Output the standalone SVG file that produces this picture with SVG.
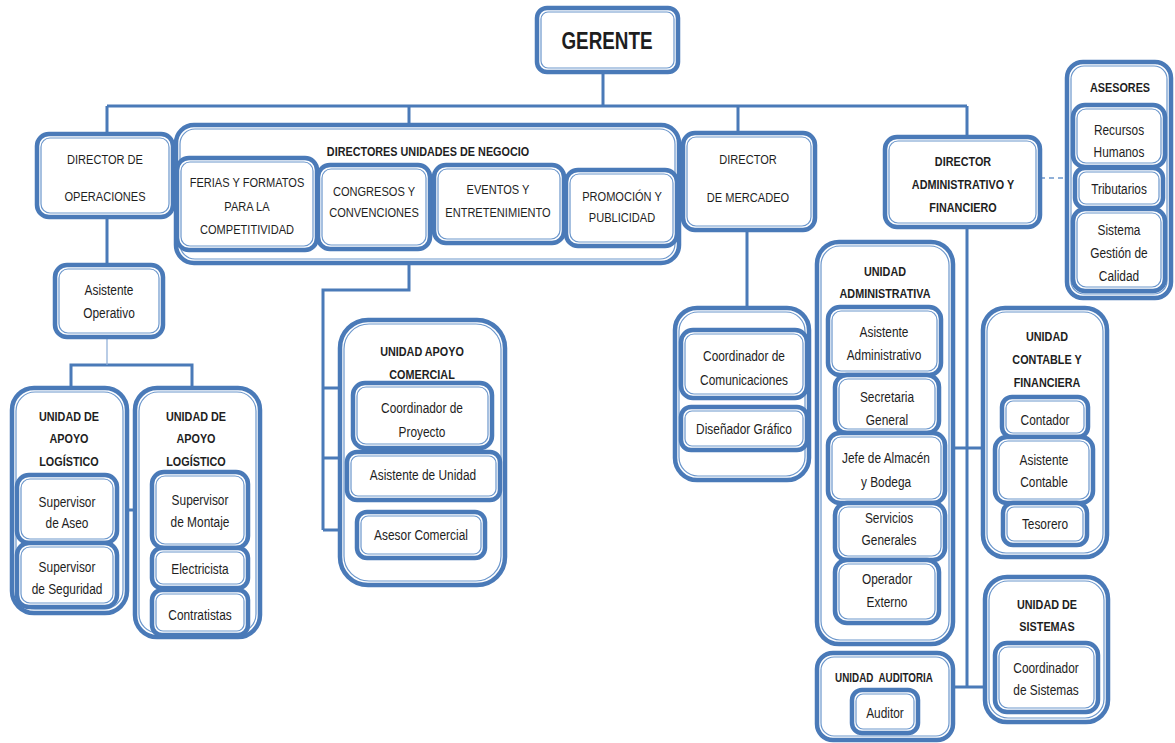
<svg xmlns="http://www.w3.org/2000/svg" width="1175" height="743" viewBox="0 0 1175 743">
<style>
.o{fill:#fff;stroke:#4a7ab8;stroke-width:4.5}
.i{fill:none;stroke:#6c97cc;stroke-width:1.2}
text{font-family:"Liberation Sans",Arial,sans-serif;font-size:14.5px;fill:#1e1e1e;text-anchor:middle;dominant-baseline:central}
.c{font-size:13.5px}
.b{font-weight:bold;font-size:13.2px}
.cn{stroke:#4a7ab8;stroke-width:3;fill:none}
.th{stroke:#8aabd6;stroke-width:1.2;fill:none}
.ds{stroke:#6c97cc;stroke-width:1.5;stroke-dasharray:5 4;fill:none}
</style>
<rect width="1175" height="743" fill="#fff"/>
<g id="connectors">
<path class="cn" d="M603 72V106M107 106H967M107 106V134M409 106V290H323V530M323 388H340M323 458H347M323 530H340M738 106V133M747 230V308M967 106V137M967 227V687M953 448H983M953 687H985M107 217V265M71 388V365H192V388M127 510H135"/>
<path class="th" d="M107 337V365"/>
<path class="ds" d="M1040 178H1067"/>
</g>
<g id="gerente"><rect class="o" x="537" y="8" width="141" height="64" rx="10"/><rect class="i" x="541" y="12" width="133" height="56" rx="7"/><text transform="translate(607 41) scale(.82 1)" style="font-size:23px;font-weight:bold">GERENTE</text></g>
<g id="dir-operaciones"><rect class="o" x="37" y="134" width="136" height="83" rx="12"/><rect class="i" x="41" y="138" width="128" height="75" rx="9"/><text class="c" transform="translate(105 160) scale(.82 1)">DIRECTOR DE</text><text class="c" transform="translate(105 197) scale(.82 1)">OPERACIONES</text></g>
<g id="directores-unidades"><rect class="o" x="176" y="125" width="503" height="138" rx="18"/><rect class="i" x="180" y="129" width="495" height="130" rx="15"/><text class="b" transform="translate(428 152) scale(.82 1)">DIRECTORES UNIDADES DE NEGOCIO</text>
<g id="ferias"><rect class="o" x="177" y="158" width="140" height="92" rx="12"/><rect class="i" x="181" y="162" width="132" height="84" rx="9"/><text class="c" transform="translate(247 183) scale(.82 1)">FERIAS Y FORMATOS</text><text class="c" transform="translate(247 207) scale(.82 1)">PARA LA</text><text class="c" transform="translate(247 230) scale(.82 1)">COMPETITIVIDAD</text></g>
<g id="congresos"><rect class="o" x="318" y="165" width="112" height="84" rx="12"/><rect class="i" x="322" y="169" width="104" height="76" rx="9"/><text class="c" transform="translate(374 192) scale(.82 1)">CONGRESOS Y</text><text class="c" transform="translate(374 213) scale(.82 1)">CONVENCIONES</text></g>
<g id="eventos"><rect class="o" x="434" y="165" width="130" height="78" rx="12"/><rect class="i" x="438" y="169" width="122" height="70" rx="9"/><text class="c" transform="translate(498 190) scale(.82 1)">EVENTOS Y</text><text class="c" transform="translate(498 213) scale(.82 1)">ENTRETENIMIENTO</text></g>
<g id="promocion"><rect class="o" x="566" y="170" width="111" height="76" rx="12"/><rect class="i" x="570" y="174" width="103" height="68" rx="9"/><text class="c" transform="translate(622 197) scale(.82 1)">PROMOCIÓN Y</text><text class="c" transform="translate(622 218) scale(.82 1)">PUBLICIDAD</text></g>
</g>
<g id="dir-mercadeo"><rect class="o" x="683" y="133" width="132" height="97" rx="12"/><rect class="i" x="687" y="137" width="124" height="89" rx="9"/><text class="c" transform="translate(748 160) scale(.82 1)">DIRECTOR</text><text class="c" transform="translate(748 198) scale(.82 1)">DE MERCADEO</text></g>
<g id="dir-administrativo"><rect class="o" x="885" y="137" width="155" height="90" rx="12"/><rect class="i" x="889" y="141" width="147" height="82" rx="9"/><text class="b" transform="translate(963 162) scale(.82 1)">DIRECTOR</text><text class="b" transform="translate(963 185) scale(.82 1)">ADMINISTRATIVO Y</text><text class="b" transform="translate(963 208) scale(.82 1)">FINANCIERO</text></g>
<g id="asesores"><rect class="o" x="1067" y="62" width="104" height="236" rx="16"/><rect class="i" x="1071" y="66" width="96" height="228" rx="13"/><text class="b" transform="translate(1120 88) scale(.82 1)">ASESORES</text>
<g id="rrhh"><rect class="o" x="1073" y="105" width="92" height="62" rx="12"/><rect class="i" x="1077" y="109" width="84" height="54" rx="9"/><text transform="translate(1119 130) scale(.82 1)">Recursos</text><text transform="translate(1119 152) scale(.82 1)">Humanos</text></g>
<g id="tributarios"><rect class="o" x="1075" y="168" width="88" height="40" rx="10"/><rect class="i" x="1079" y="172" width="80" height="32" rx="7"/><text transform="translate(1119 189) scale(.82 1)">Tributarios</text></g>
<g id="sistema-calidad"><rect class="o" x="1073" y="209" width="92" height="82" rx="12"/><rect class="i" x="1077" y="213" width="84" height="74" rx="9"/><text transform="translate(1119 230) scale(.82 1)">Sistema</text><text transform="translate(1119 253) scale(.82 1)">Gestión de</text><text transform="translate(1119 276) scale(.82 1)">Calidad</text></g>
</g>
<g id="asistente-operativo"><rect class="o" x="55" y="265" width="108" height="72" rx="12"/><rect class="i" x="59" y="269" width="100" height="64" rx="9"/><text transform="translate(109 290) scale(.82 1)">Asistente</text><text transform="translate(109 313) scale(.82 1)">Operativo</text></g>
<g id="apoyo-logistico-1"><rect class="o" x="12" y="388" width="115" height="225" rx="22"/><rect class="i" x="16" y="392" width="107" height="217" rx="19"/><text class="b" transform="translate(69 417) scale(.82 1)">UNIDAD DE</text><text class="b" transform="translate(69 439) scale(.82 1)">APOYO</text><text class="b" transform="translate(69 462) scale(.82 1)">LOGÍSTICO</text>
<g id="sup-aseo"><rect class="o" x="17" y="475" width="100" height="68" rx="12"/><rect class="i" x="21" y="479" width="92" height="60" rx="9"/><text transform="translate(67 502) scale(.82 1)">Supervisor</text><text transform="translate(67 523) scale(.82 1)">de Aseo</text></g>
<g id="sup-seguridad"><rect class="o" x="17" y="543" width="100" height="64" rx="12"/><rect class="i" x="21" y="547" width="92" height="56" rx="9"/><text transform="translate(67 567) scale(.82 1)">Supervisor</text><text transform="translate(67 589) scale(.82 1)">de Seguridad</text></g>
</g>
<g id="apoyo-logistico-2"><rect class="o" x="135" y="388" width="125" height="249" rx="22"/><rect class="i" x="139" y="392" width="117" height="241" rx="19"/><text class="b" transform="translate(196 417) scale(.82 1)">UNIDAD DE</text><text class="b" transform="translate(196 439) scale(.82 1)">APOYO</text><text class="b" transform="translate(196 462) scale(.82 1)">LOGÍSTICO</text>
<g id="sup-montaje"><rect class="o" x="152" y="472" width="96" height="76" rx="12"/><rect class="i" x="156" y="476" width="88" height="68" rx="9"/><text transform="translate(200 500) scale(.82 1)">Supervisor</text><text transform="translate(200 522) scale(.82 1)">de Montaje</text></g>
<g id="electricista"><rect class="o" x="152" y="548" width="96" height="40" rx="10"/><rect class="i" x="156" y="552" width="88" height="32" rx="7"/><text transform="translate(200 569) scale(.82 1)">Electricista</text></g>
<g id="contratistas"><rect class="o" x="152" y="590" width="96" height="45" rx="10"/><rect class="i" x="156" y="594" width="88" height="37" rx="7"/><text transform="translate(200 615) scale(.82 1)">Contratistas</text></g>
</g>
<g id="apoyo-comercial"><rect class="o" x="340" y="320" width="165" height="265" rx="28"/><rect class="i" x="344" y="324" width="157" height="257" rx="25"/><text class="b" transform="translate(422 352) scale(.82 1)">UNIDAD APOYO</text><text class="b" transform="translate(422 375) scale(.82 1)">COMERCIAL</text>
<g id="coord-proyecto"><rect class="o" x="353" y="383" width="139" height="65" rx="12"/><rect class="i" x="357" y="387" width="131" height="57" rx="9"/><text transform="translate(422 408) scale(.82 1)">Coordinador de</text><text transform="translate(422 432) scale(.82 1)">Proyecto</text></g>
<g id="asistente-unidad"><rect class="o" x="347" y="452" width="153" height="48" rx="10"/><rect class="i" x="351" y="456" width="145" height="40" rx="7"/><text transform="translate(423 475) scale(.82 1)">Asistente de Unidad</text></g>
<g id="asesor-comercial"><rect class="o" x="357" y="512" width="128" height="46" rx="10"/><rect class="i" x="361" y="516" width="120" height="38" rx="7"/><text transform="translate(421 535) scale(.82 1)">Asesor Comercial</text></g>
</g>
<g id="unidad-mercadeo"><rect class="o" x="675" y="308" width="134" height="172" rx="22"/><rect class="i" x="679" y="312" width="126" height="164" rx="19"/>
<g id="coord-comunicaciones"><rect class="o" x="681" y="330" width="126" height="68" rx="12"/><rect class="i" x="685" y="334" width="118" height="60" rx="9"/><text transform="translate(744 356) scale(.82 1)">Coordinador de</text><text transform="translate(744 380) scale(.82 1)">Comunicaciones</text></g>
<g id="disenador"><rect class="o" x="681" y="407" width="126" height="43" rx="10"/><rect class="i" x="685" y="411" width="118" height="35" rx="7"/><text transform="translate(744 429) scale(.82 1)">Diseñador Gráfico</text></g>
</g>
<g id="unidad-administrativa"><rect class="o" x="817" y="242" width="136" height="402" rx="22"/><rect class="i" x="821" y="246" width="128" height="394" rx="19"/><text class="b" transform="translate(885 272) scale(.82 1)">UNIDAD</text><text class="b" transform="translate(885 294) scale(.82 1)">ADMINISTRATIVA</text>
<g id="asistente-administrativo"><rect class="o" x="828" y="307" width="113" height="68" rx="12"/><rect class="i" x="832" y="311" width="105" height="60" rx="9"/><text transform="translate(884 332) scale(.82 1)">Asistente</text><text transform="translate(884 355) scale(.82 1)">Administrativo</text></g>
<g id="secretaria"><rect class="o" x="835" y="375" width="104" height="58" rx="12"/><rect class="i" x="839" y="379" width="96" height="50" rx="9"/><text transform="translate(887 397) scale(.82 1)">Secretaria</text><text transform="translate(887 420) scale(.82 1)">General</text></g>
<g id="jefe-almacen"><rect class="o" x="828" y="433" width="117" height="70" rx="12"/><rect class="i" x="832" y="437" width="109" height="62" rx="9"/><text transform="translate(886 458) scale(.82 1)">Jefe de Almacén</text><text transform="translate(886 482) scale(.82 1)">y Bodega</text></g>
<g id="servicios"><rect class="o" x="835" y="503" width="110" height="57" rx="12"/><rect class="i" x="839" y="507" width="102" height="49" rx="9"/><text transform="translate(889 518) scale(.82 1)">Servicios</text><text transform="translate(889 540) scale(.82 1)">Generales</text></g>
<g id="operador"><rect class="o" x="835" y="560" width="104" height="63" rx="12"/><rect class="i" x="839" y="564" width="96" height="55" rx="9"/><text transform="translate(887 579) scale(.82 1)">Operador</text><text transform="translate(887 602) scale(.82 1)">Externo</text></g>
</g>
<g id="unidad-auditoria"><rect class="o" x="817" y="653" width="136" height="87" rx="16"/><rect class="i" x="821" y="657" width="128" height="79" rx="13"/><text class="b" transform="translate(884 678) scale(.82 1)" style="font-size:12px" xml:space="preserve">UNIDAD  AUDITORIA</text>
<g id="auditor"><rect class="o" x="852" y="690" width="66" height="43" rx="10"/><rect class="i" x="856" y="694" width="58" height="35" rx="7"/><text transform="translate(885 713) scale(.82 1)">Auditor</text></g>
</g>
<g id="unidad-contable"><rect class="o" x="983" y="308" width="124" height="249" rx="22"/><rect class="i" x="987" y="312" width="116" height="241" rx="19"/><text class="b" transform="translate(1047 337) scale(.82 1)">UNIDAD</text><text class="b" transform="translate(1047 360) scale(.82 1)">CONTABLE Y</text><text class="b" transform="translate(1047 383) scale(.82 1)">FINANCIERA</text>
<g id="contador"><rect class="o" x="1002" y="397" width="86" height="40" rx="10"/><rect class="i" x="1006" y="401" width="78" height="32" rx="7"/><text transform="translate(1045 420) scale(.82 1)">Contador</text></g>
<g id="asistente-contable"><rect class="o" x="995" y="437" width="98" height="66" rx="12"/><rect class="i" x="999" y="441" width="90" height="58" rx="9"/><text transform="translate(1044 460) scale(.82 1)">Asistente</text><text transform="translate(1044 482) scale(.82 1)">Contable</text></g>
<g id="tesorero"><rect class="o" x="1003" y="503" width="84" height="42" rx="10"/><rect class="i" x="1007" y="507" width="76" height="34" rx="7"/><text transform="translate(1045 524) scale(.82 1)">Tesorero</text></g>
</g>
<g id="unidad-sistemas"><rect class="o" x="985" y="577" width="123" height="145" rx="22"/><rect class="i" x="989" y="581" width="115" height="137" rx="19"/><text class="b" transform="translate(1047 605) scale(.82 1)">UNIDAD DE</text><text class="b" transform="translate(1047 627) scale(.82 1)">SISTEMAS</text>
<g id="coord-sistemas"><rect class="o" x="995" y="643" width="103" height="69" rx="12"/><rect class="i" x="999" y="647" width="95" height="61" rx="9"/><text transform="translate(1046 668) scale(.82 1)">Coordinador</text><text transform="translate(1046 690) scale(.82 1)">de Sistemas</text></g>
</g>
</svg>
